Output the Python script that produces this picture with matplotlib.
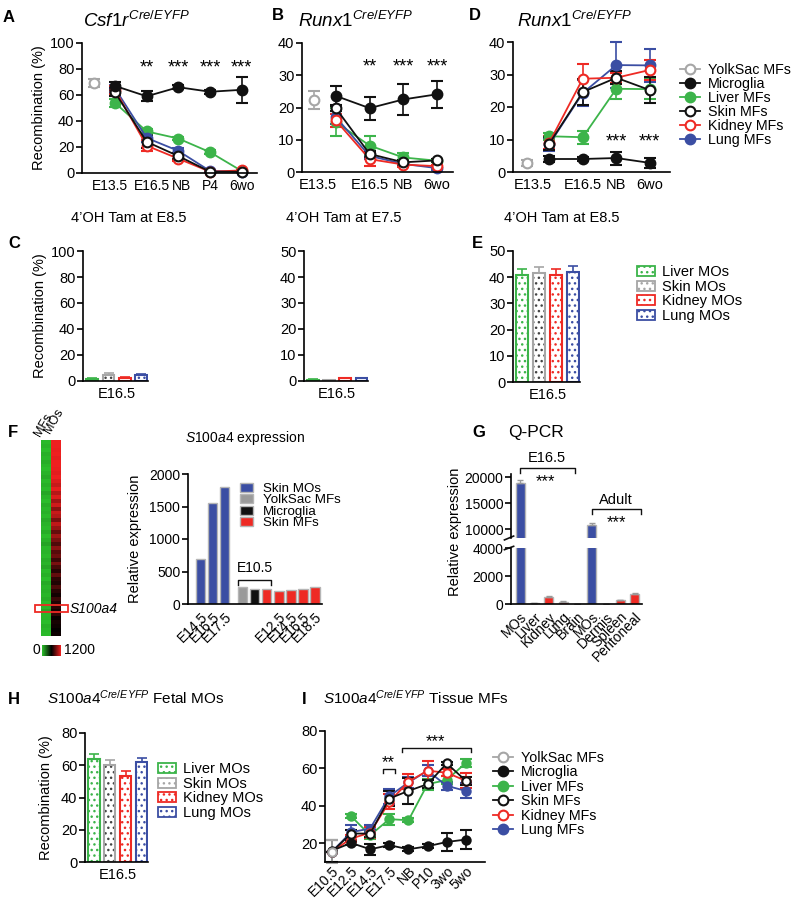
import numpy as np
import matplotlib.pyplot as plt
from matplotlib.lines import Line2D
from matplotlib.patches import Patch, Rectangle
from matplotlib.colors import LinearSegmentedColormap

plt.rcParams['font.family'] = 'Liberation Sans'
plt.rcParams['mathtext.fontset'] = 'custom'
plt.rcParams['mathtext.rm'] = 'Liberation Sans'
plt.rcParams['mathtext.it'] = 'Liberation Sans:italic'
plt.rcParams['axes.linewidth'] = 1.2
plt.rcParams['hatch.linewidth'] = 1.0

W, H = 792, 900

GREEN = '#3cb44a'
RED = '#ee2a24'
BLUE = '#3b4ea3'
GRAY = '#a6a6a6'
BLACK = '#111111'

# ---- A: Csf1r, 4'OH Tam at E8.5 ----
a_x = ['E13.5', 'E16.5', 'NB', 'P4', '6wo']
a_yolk, a_yolk_err = 69.5, 3
a_micro = [67, 59, 66, 62.5, 64]
a_micro_err = [3, 4, 1.5, 1.5, 10]
a_liver = [54, 32, 26.5, 16, 1.5]
a_liver_err = [3, 2, 1.5, 1.5, 0.5]
a_skin = [62, 24, 13, 1, 1]
a_skin_err = [3, 5, 2, 0.5, 0.5]
a_kidney = [64, 21, 11, 1, 2]
a_kidney_err = [3, 4, 2, 0.5, 0.5]
a_lung = [65, 27, 17, 1.5, 1]
a_lung_err = [3, 3, 2, 0.5, 0.5]
a_stars = ['', '**', '***', '***', '***']

# ---- B: Runx1, 4'OH Tam at E7.5 ----
b_x = ['E13.5', 'E16.5', 'NB', '6wo']
b_yolk, b_yolk_err = 22.3, 2.7
b_micro = [23.6, 19.8, 22.5, 24.1]
b_micro_err = [3.2, 3.6, 4.8, 4.2]
b_liver = [15.5, 8.2, 4.5, 3.5]
b_liver_err = [4.2, 3.0, 1.5, 0.5]
b_skin = [19.8, 5.6, 3.0, 3.6]
b_skin_err = [1, 1, 0.7, 0.5]
b_kidney = [16, 4.0, 2.3, 1.8]
b_kidney_err = [2, 2, 0.6, 0.5]
b_lung = [17, 5.0, 2.5, 1.2]
b_lung_err = [2, 1, 0.5, 0.5]
b_stars = ['', '**', '***', '***']

# ---- D: Runx1, 4'OH Tam at E8.5 ----
d_x = ['E13.5', 'E16.5', 'NB', '6wo']
d_yolk, d_yolk_err = 2.8, 1
d_micro = [4.0, 4.0, 4.3, 2.8]
d_micro_err = [1, 0.5, 2, 1.5]
d_liver = [11, 10.7, 25.6, 25.5]
d_liver_err = [1, 2, 3, 3]
d_skin = [8.7, 24.6, 29, 25.2]
d_skin_err = [2, 4, 2, 4]
d_kidney = [9, 28.7, 29, 31.4]
d_kidney_err = [2, 4.5, 1.5, 3]
d_lung = [8.5, 24.3, 32.9, 32.8]
d_lung_err = [2, 4, 7, 5]
d_stars = ['', '', '***', '***']

# ---- C / E / H: MOs bars at E16.5 ----
mo_names = ['Liver MOs', 'Skin MOs', 'Kidney MOs', 'Lung MOs']
c1_vals = [1.5, 4.5, 2.5, 4.5]
c1_err = [0.5, 1.5, 0.7, 1.0]
c2_vals = [0.4, 0.2, 1.0, 1.0]
c2_err = [0.2, 0.1, 0.3, 0.3]
e_vals = [41, 41.5, 41, 42]
e_err = [2.2, 2.5, 2.2, 2.2]
h_vals = [64, 60, 53.5, 62]
h_err = [3, 3.3, 2.8, 2.8]

# ---- F: heatmap + S100a4 expression ----
hm_mfs = [20, 40, 10, 50, 30, 60, 30, 10, 40, 70,
          20, 50, 20, 80, 40, 10, 60, 30, 50, 20,
          70, 40, 20, 60, 10, 50, 90, 30, 40, 20,
          60, 40, 80, 20, 50, 10, 70, 40, 50, 30,
          60, 20, 40, 90, 30, 40, 10, 50, 30, 20]
hm_mos = [1200, 1200, 1190, 1200, 1180, 1200, 1200, 1190, 1170, 1200,
          1150, 1100, 1180, 1050, 1150, 1000, 1120, 950, 1100, 1050,
          900, 1080, 980, 850, 1000, 900, 800, 950, 820, 880,
          750, 900, 780, 700, 850, 720, 680, 800, 700, 650,
          750, 680, 700, 650, 720, 620, 660, 640, 610, 630]
s100a4_row = 42.5
f_vals = [687, 1549, 1805, 262, 233, 228, 207, 217, 238, 262]
f_colors = [BLUE, BLUE, BLUE, '#9a9a9a', BLACK, RED, RED, RED, RED, RED]
f_ticklabels = ['E14.5', 'E16.5', 'E17.5', '', '', '', 'E12.5', 'E14.5', 'E16.5', 'E18.5']
f_legend = ['Skin MOs', 'YolkSac MFs', 'Microglia', 'Skin MFs']

# ---- G: Q-PCR ----
g_labels = ['MOs', 'Liver', 'Kidney', 'Lung', 'Brain', 'MOs', 'Dermis', 'Spleen', 'Peritoneal']
g_vals = [18900, 40, 520, 160, 20, 10700, 10, 260, 720]
g_err = [500, 10, 40, 30, 5, 500, 5, 40, 60]
g_colors = [BLUE, RED, RED, RED, RED, BLUE, RED, RED, RED]

# ---- I: S100a4 tissue MFs ----
i_x = ['E10.5', 'E12.5', 'E14.5', 'E17.5', 'NB', 'P10', '3wo', '5wo']
i_yolk, i_yolk_err = 15.5, 6
i_micro = [16, 20.2, 16.8, 19, 16.8, 18.4, 20.7, 22]
i_micro_err = [6, 1, 3, 1, 1, 1, 5, 5]
i_liver = [np.nan, 34.5, 24.3, 32.9, 32.3, 51.6, 53.8, 63]
i_liver_err = [0, 1, 2, 3, 1, 3, 2, 2]
i_skin = [15.5, 25.2, 25.2, 43.9, 48, 51.6, 62.7, 53.4]
i_skin_err = [0, 2, 2, 4, 7, 2, 1, 2]
i_kidney = [15.5, 22.5, 25.7, 42.1, 52.9, 58.8, 57.7, 53.4]
i_kidney_err = [0, 2, 3, 4, 4, 5, 2, 4]
i_lung = [15.5, 25.9, 27.9, 45.2, 52.5, 58.8, 50.7, 48]
i_lung_err = [0, 4, 2, 4, 3, 3, 2, 4]

series_style = {
    'YolkSac MFs': (GRAY, 'white'),
    'Microglia': (BLACK, BLACK),
    'Liver MFs': (GREEN, GREEN),
    'Skin MFs': (BLACK, 'white'),
    'Kidney MFs': (RED, 'white'),
    'Lung MFs': (BLUE, BLUE),
}
mo_edge = [GREEN, GRAY, RED, BLUE]
mo_dots = [GREEN, '#444444', RED, BLUE]

fig = plt.figure(figsize=(7.92, 9), dpi=100)


def box(x0, y0, x1, y1):
    # pixel box -> figure fraction
    return [x0 / W, 1 - y1 / H, (x1 - x0) / W, (y1 - y0) / H]


def ftext(x, y, s, **kw):
    fig.text(x / W, 1 - y / H, s, **kw)


def clean(ax, fs=10.5):
    ax.spines['top'].set_visible(False)
    ax.spines['right'].set_visible(False)
    ax.tick_params(axis='y', length=4, width=1.2, labelsize=fs, pad=1.5)
    ax.tick_params(axis='x', length=0, labelsize=fs, pad=4)


def line_series(ax, x, y, err, name, ms=7):
    c, fc = series_style[name]
    cont = ax.errorbar(x, y, yerr=err, color=c, marker='o', ms=ms, mfc=fc, mec=c,
                       mew=1.5, lw=1.3, elinewidth=1.2, capsize=4, capthick=1.2)
    for art in cont.get_children():
        art.set_clip_on(False)


def line_panel(ax, labels, label_pos, yolk, yolk_err, data, stars, star_y):
    x = np.arange(len(labels))
    line_series(ax, [-0.65], [yolk], [yolk_err], 'YolkSac MFs')
    for name in ['Liver MFs', 'Lung MFs', 'Kidney MFs', 'Skin MFs', 'Microglia']:
        vals, err = data[name]
        line_series(ax, x, vals, err, name)
    for xi, s in zip(x, stars):
        ax.text(xi, star_y, s, ha='center', va='baseline', fontsize=13)
    # GraphPad-style label placement (labels not centred on the points)
    ax.set_xticks(label_pos, labels)
    clean(ax)


def dotted_bars(ax, vals, errs):
    x = np.arange(len(vals))
    for xi, v, e, ec, dc in zip(x, vals, errs, mo_edge, mo_dots):
        ax.bar(xi, v, 0.72, color='white', edgecolor=dc, hatch='...', lw=0.3)
        ax.bar(xi, v, 0.72, fill=False, edgecolor=ec, lw=1.5)
        ax.errorbar(xi, v, yerr=[[0], [e]], color=ec, capsize=3.5, lw=1.2, capthick=1.2)
    ax.set_xlim(-0.55, 3.4)
    ax.set_xticks([1.5], ['E16.5'])
    clean(ax)


def mo_legend(ax, x, y):
    handles = [Patch(facecolor='white', edgecolor=ec, hatch='...', lw=1.3) for ec in mo_edge]
    ax.legend(handles, mo_names, loc='upper left', bbox_to_anchor=(x / W, 1 - y / H),
              bbox_transform=fig.transFigure, frameon=False, fontsize=10.5,
              borderpad=0, borderaxespad=0, handlelength=1.2, handleheight=0.7,
              handletextpad=0.5, labelspacing=0.05)


def mf_legend(ax, x, y, spacing):
    handles = []
    for name, (c, fc) in series_style.items():
        handles.append(Line2D([], [], color=c, marker='o', ms=7, mfc=fc, mec=c, mew=1.5, lw=1.3))
    ax.legend(handles, list(series_style), loc='upper left', bbox_to_anchor=(x / W, 1 - y / H),
              bbox_transform=fig.transFigure, frameon=False, fontsize=10.3,
              borderpad=0, borderaxespad=0, handlelength=1.4,
              handletextpad=0.55, labelspacing=spacing)


# ---------------- A ----------------
ax = fig.add_axes(box(82, 43, 257, 173))
line_panel(ax, a_x, [-0.17, 1.17, 2.1, 3, 4], a_yolk, a_yolk_err,
           {'Microglia': (a_micro, a_micro_err), 'Liver MFs': (a_liver, a_liver_err),
            'Skin MFs': (a_skin, a_skin_err), 'Kidney MFs': (a_kidney, a_kidney_err),
            'Lung MFs': (a_lung, a_lung_err)}, a_stars, 77)
ax.tick_params(axis='x', labelsize=10)
ax.set_xlim(-1.04, 4.48)
ax.set_ylim(0, 100)
ax.set_yticks([0, 20, 40, 60, 80, 100])
ax.set_ylabel('Recombination (%)', fontsize=10.5, labelpad=3)
ftext(3, 17, 'A', fontsize=12, fontweight='bold', va='center')
ftext(83, 27, r'$\mathit{Csf1r}^{\mathit{Cre/EYFP}}$', fontsize=13.5, va='baseline')

# ---------------- B ----------------
ax = fig.add_axes(box(302, 43, 453, 172))
line_panel(ax, b_x, [-0.53, 1, 2, 3], b_yolk, b_yolk_err,
           {'Microglia': (b_micro, b_micro_err), 'Liver MFs': (b_liver, b_liver_err),
            'Skin MFs': (b_skin, b_skin_err), 'Kidney MFs': (b_kidney, b_kidney_err),
            'Lung MFs': (b_lung, b_lung_err)}, b_stars, 31.3)
ax.set_xlim(-1.0, 3.47)
ax.set_ylim(0, 40)
ax.set_yticks([0, 10, 20, 30, 40])
ftext(272, 15, 'B', fontsize=12, fontweight='bold', va='center')
ftext(298, 27, r'$\mathit{Runx1}^{\mathit{Cre/EYFP}}$', fontsize=13.5, va='baseline')

# ---------------- D ----------------
ax = fig.add_axes(box(513, 42, 670, 172))
line_panel(ax, d_x, [-0.48, 1, 2, 3], d_yolk, d_yolk_err,
           {'Microglia': (d_micro, d_micro_err), 'Liver MFs': (d_liver, d_liver_err),
            'Skin MFs': (d_skin, d_skin_err), 'Kidney MFs': (d_kidney, d_kidney_err),
            'Lung MFs': (d_lung, d_lung_err)}, d_stars, 7.8)
ax.set_xlim(-1.08, 3.6)
ax.set_ylim(0, 40)
ax.set_yticks([0, 10, 20, 30, 40])
mf_legend(ax, 680, 63, 0.0)
ftext(469, 15, 'D', fontsize=12, fontweight='bold', va='center')
ftext(517, 27, r'$\mathit{Runx1}^{\mathit{Cre/EYFP}}$', fontsize=13.5, va='baseline')

# ---------------- C ----------------
ax = fig.add_axes(box(83, 251, 148, 381))
dotted_bars(ax, c1_vals, c1_err)
ax.set_ylim(0, 100)
ax.set_yticks([0, 20, 40, 60, 80, 100])
ax.set_ylabel('Recombination (%)', fontsize=10.5, labelpad=3)
ftext(8, 243, 'C', fontsize=12, fontweight='bold', va='center')
ftext(129, 218, '4\u2019OH Tam at E8.5', fontsize=10.5, ha='center', va='center')

ax = fig.add_axes(box(304, 251, 368, 381))
dotted_bars(ax, c2_vals, c2_err)
ax.set_ylim(0, 50)
ax.set_yticks([0, 10, 20, 30, 40, 50])
ftext(344, 218, '4\u2019OH Tam at E7.5', fontsize=10.5, ha='center', va='center')

# ---------------- E ----------------
ax = fig.add_axes(box(513, 251, 580, 382))
dotted_bars(ax, e_vals, e_err)
ax.set_ylim(0, 50)
ax.set_yticks([0, 10, 20, 30, 40, 50])
mo_legend(ax, 637, 265)
ftext(472, 243, 'E', fontsize=12, fontweight='bold', va='center')
ftext(562, 218, '4\u2019OH Tam at E8.5', fontsize=10.5, ha='center', va='center')

# ---------------- F ----------------
cmap = LinearSegmentedColormap.from_list('gbr', ['#2cc02c', '#000000', '#ee2020'])
ax = fig.add_axes(box(41, 440, 61, 636))
ax.imshow(np.array([hm_mfs, hm_mos]).T, cmap=cmap, vmin=0, vmax=1200,
          aspect='auto', interpolation='nearest')
ax.axis('off')
ax.add_patch(Rectangle((-1.1, s100a4_row - 0.8), 3.3, 1.6, fill=False,
                       edgecolor=RED, lw=1.3, clip_on=False))
ax.text(2.4, s100a4_row, 'S100a4', fontsize=10, style='italic', va='center')
for col, lab in enumerate(['MFs', 'MOs']):
    ax.text(col - 0.3, -1.0 - 0.6 * col, lab, rotation=60, rotation_mode='anchor',
            ha='left', va='bottom', fontsize=9)

ax = fig.add_axes(box(42, 645, 61, 656))
ax.imshow(np.linspace(0, 1200, 100)[None, :], cmap=cmap, aspect='auto')
ax.axis('off')
ftext(36, 650, '0', fontsize=10, ha='center', va='center')
ftext(64, 650, '1200', fontsize=10, ha='left', va='center')
ftext(8, 433, 'F', fontsize=12, fontweight='bold', va='center')

f_pos = np.r_[np.arange(3), np.arange(7) + 3.5]
ax = fig.add_axes(box(188, 474, 322, 604))
ax.bar(f_pos, f_vals, 0.8, color=f_colors, edgecolor='#b5b5b5', lw=1)
ax.set_xlim(-1.04, 10.1)
ax.set_ylim(0, 2000)
ax.set_yticks([0, 500, 1000, 1500, 2000])
ax.set_xticks(f_pos, f_ticklabels, rotation=45, ha='right', rotation_mode='anchor')
clean(ax, 10)
ax.set_ylabel('Relative expression', fontsize=10.5, labelpad=5)
ax.plot([3.1, 3.1, 5.9, 5.9], [292, 369, 369, 292], color=BLACK, lw=1, clip_on=False)
ax.text(4.5, 440, 'E10.5', ha='center', va='bottom', fontsize=10)
f_handles = [Patch(facecolor=c, edgecolor='#b5b5b5') for c in [BLUE, '#9a9a9a', BLACK, RED]]
ax.legend(f_handles, f_legend, loc='upper left', bbox_to_anchor=(240 / W, 1 - 483 / H),
          bbox_transform=fig.transFigure, frameon=False, fontsize=9.6,
          borderpad=0, borderaxespad=0, handlelength=1.0, handleheight=0.65,
          handletextpad=0.7, labelspacing=-0.06)
ftext(245, 438, r'$\mathit{S100a4}$ expression', fontsize=10, ha='center', va='center')

# ---------------- G ----------------
g_x = np.arange(len(g_labels))
axg_top = fig.add_axes(box(511, 474, 642, 538))
axg_bot = fig.add_axes(box(511, 548, 642, 604))
for ax in (axg_top, axg_bot):
    ax.bar(g_x, g_vals, 0.63, color=g_colors, edgecolor='#b5b5b5', lw=1)
    ax.errorbar(g_x, g_vals, yerr=[np.zeros(len(g_err)), g_err], fmt='none',
                ecolor='#9a9a9a', capsize=2.5, lw=1)
    clean(ax, 10)
    ax.set_xlim(-0.63, 8.5)
axg_top.set_ylim(8270, 20580)
axg_top.set_yticks([10000, 15000, 20000])
axg_top.spines['bottom'].set_visible(False)
axg_top.set_xticks([])
axg_bot.set_ylim(0, 4000)
axg_bot.set_yticks([0, 2000, 4000])
axg_bot.set_xticks(g_x, g_labels, rotation=45, ha='right', rotation_mode='anchor')
for ax, yy in ((axg_top, 0), (axg_bot, 1)):
    ax.plot([-0.05, 0.02], [yy - 0.03, yy + 0.03], transform=ax.transAxes,
            color=BLACK, lw=1.2, clip_on=False)
axg_top.plot([0, 0, 3.8, 3.8], [20772, 21734, 21734, 20772], color=BLACK, lw=1, clip_on=False)
axg_top.text(1.9, 23657, 'E16.5', ha='center', va='center', fontsize=10.5)
axg_top.text(1.8, 18270, '***', ha='center', va='baseline', fontsize=12)
axg_top.plot([5.0, 5.0, 8.45, 8.45], [12888, 13850, 13850, 12888], color=BLACK, lw=1, clip_on=False)
axg_top.text(6.7, 15580, 'Adult', ha='center', va='center', fontsize=10.5)
axg_top.text(6.7, 10388, '***', ha='center', va='baseline', fontsize=12)
ftext(455, 532, 'Relative expression', fontsize=10.5, rotation=90, ha='center', va='center')
ftext(472, 433, 'G', fontsize=12, fontweight='bold', va='center')
ftext(508, 433, 'Q-PCR', fontsize=12.5, va='center')

# ---------------- H ----------------
ax = fig.add_axes(box(85, 733, 148, 862))
dotted_bars(ax, h_vals, h_err)
ax.set_ylim(0, 80)
ax.set_yticks([0, 20, 40, 60, 80])
ax.set_ylabel('Recombination (%)', fontsize=10.5, labelpad=6)
mo_legend(ax, 158, 762)
ftext(8, 699, 'H', fontsize=12, fontweight='bold', va='center')
ftext(47, 704, r'$\mathit{S100a4}^{\mathit{Cre/EYFP}}$ Fetal MOs', fontsize=11, va='baseline')

# ---------------- I ----------------
ax = fig.add_axes(box(325, 731, 485, 862))
xi = np.arange(len(i_x))
for name, vals, err in [('Liver MFs', i_liver, i_liver_err), ('Lung MFs', i_lung, i_lung_err),
                        ('Kidney MFs', i_kidney, i_kidney_err), ('Skin MFs', i_skin, i_skin_err),
                        ('Microglia', i_micro, i_micro_err)]:
    line_series(ax, xi, vals, err, name, ms=6)
line_series(ax, [0], [i_yolk], [i_yolk_err], 'YolkSac MFs', ms=6)
ax.set_xlim(-0.36, 8.0)
ax.set_ylim(10, 80)
ax.set_yticks([20, 40, 60, 80])
clean(ax)
ax.set_xticks(xi, i_x, rotation=45, ha='right', rotation_mode='anchor')
ax.tick_params(axis='x', labelsize=10, pad=1.5)
ax.plot([2.65, 2.65, 3.3, 3.3], [57.5, 59.5, 59.5, 57.5], color=BLACK, lw=1, clip_on=False)
ax.text(2.95, 60.5, '**', ha='center', va='baseline', fontsize=12)
ax.plot([3.65, 3.65, 7.25, 7.25], [69, 71, 71, 69], color=BLACK, lw=1, clip_on=False)
ax.text(5.4, 72, '***', ha='center', va='baseline', fontsize=12)
mf_legend(ax, 493, 751, 0.03)
ftext(302, 699, 'I', fontsize=12, fontweight='bold', va='center')
ftext(323, 704, r'$\mathit{S100a4}^{\mathit{Cre/EYFP}}$ Tissue MFs', fontsize=11, va='baseline')

fig.savefig('out.png', dpi=100)
